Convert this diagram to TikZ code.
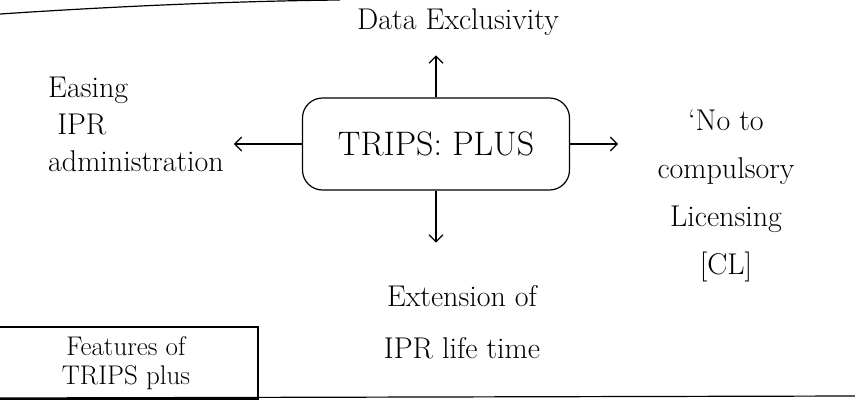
\documentclass[tikz,border=0pt]{standalone}
\usepackage{tikz}
\usetikzlibrary{arrows.meta}

\begin{document}
\begin{tikzpicture}[x=1pt, y=-1pt, >={Straight Barb[length=7pt, width=14pt]}, every node/.style={align=center, font=\fontsize{30}{37}\selectfont}]
\useasboundingbox (0,0) rectangle (855,400);

% Page rules
\draw[very thick] (0,14) .. controls (120,6) and (240,1) .. (340,0);
\draw[very thick] (0,398) -- (855,396);

% Central box
\node[draw, very thick, rounded corners=20pt, minimum width=267pt, minimum height=92pt, font=\fontsize{34}{40}\selectfont] (trips) at (436,144) {TRIPS: PLUS};

% Features around it
\node (data) at (458,22) {Data Exclusivity};
\node[align=left] (easing) at (136,124) {Easing\\\ IPR\\administration};
\node[font=\fontsize{30}{48}\selectfont] (cl) at (726,196) {`No to\\compulsory\\Licensing\\{[CL]}};
\node[font=\fontsize{30}{52}\selectfont] (ext) at (462,322) {Extension of\\IPR life time};

% Title box
\node[draw, very thick, minimum width=264pt, minimum height=72pt, font=\fontsize{27}{29}\selectfont] (title) at (126,363) {Features of\\TRIPS plus};

% Arrows
\draw[->, very thick] (trips.north) -- ++(0,-42);
\draw[->, very thick] (trips.west) -- ++(-68,0);
\draw[->, very thick] (trips.east) -- ++(48,0);
\draw[->, very thick] (trips.south) -- ++(0,52);
\end{tikzpicture}
\end{document}
